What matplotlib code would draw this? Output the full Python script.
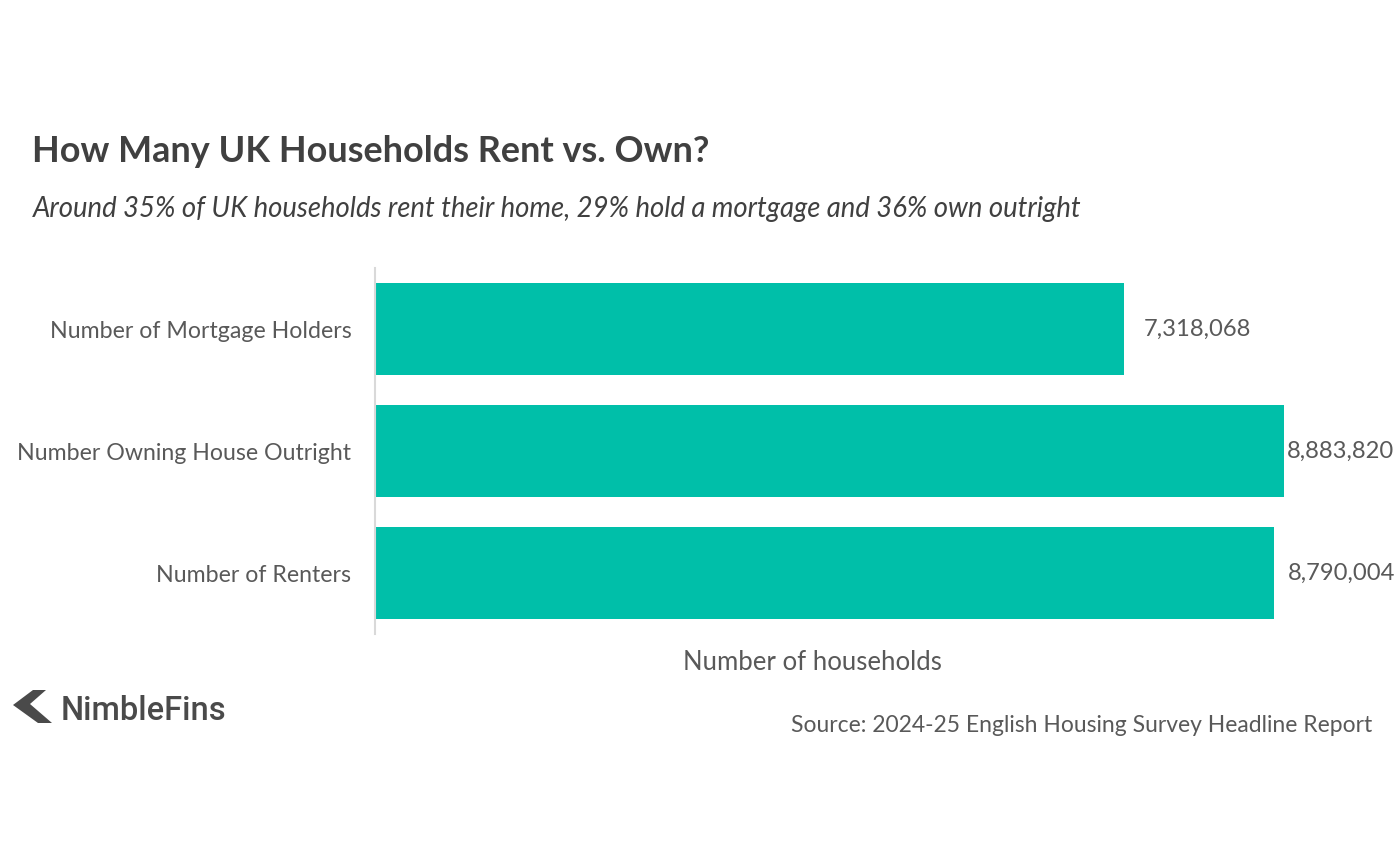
#!/usr/bin/env python3
"""
UK households: renting vs. owning (English Housing Survey 2024-25)
"""
import matplotlib
matplotlib.use("Agg")
import matplotlib.pyplot as plt
from matplotlib.patches import Polygon
from matplotlib.ticker import NullLocator

# data, bottom to top as drawn
categories = ["Number of Renters", "Number Owning House Outright", "Number of Mortgage Holders"]
households = [8790004, 8883820, 7318068]
label_offsets = [13, 3, 20]  # px gap between bar end and value label

TEAL = "#00BFA9"
GREY = "#595959"
DARK = "#404040"

plt.rcParams["font.family"] = ["Lato", "DejaVu Sans"]

W, H = 1400, 852
fig = plt.figure(figsize=(W / 100, H / 100), dpi=100)

ax = fig.add_axes([375 / W, 1 - 634 / H, (1390 - 375) / W, (634 - 268) / H])
ypos = list(range(len(categories)))
ax.barh(ypos, households, height=0.76, color=TEAL)
ax.set_xlim(0, 9.92e6)
ax.set_ylim(-0.5, len(categories) - 0.5)

ax.set_yticks(ypos)
ax.set_yticklabels(categories, fontsize=16.7, color=GREY)
ax.tick_params(axis="y", length=0, pad=17)
ax.xaxis.set_major_locator(NullLocator())

for side in ["top", "right", "bottom"]:
    ax.spines[side].set_visible(False)
ax.spines["left"].set_color("#d9d9d9")
ax.spines["left"].set_linewidth(1.5)

for y, v, off in zip(ypos, households, label_offsets):
    ax.annotate(f"{v:,}", xy=(v, y), xytext=(off * 0.72, 0), textcoords="offset points",
                ha="left", va="center", fontsize=17.1, color=GREY)

# titles
fig.text(32 / W, 1 - 152 / H, "How Many UK Households Rent vs. Own?",
         fontsize=25.9, fontweight="bold", color=DARK, ha="left", va="center")
fig.text(33 / W, 1 - 209 / H,
         "Around 35% of UK households rent their home, 29% hold a mortgage and 36% own outright",
         fontsize=19.8, style="italic", color=DARK, ha="left", va="center")

fig.text(812 / W, 1 - 662 / H, "Number of households",
         fontsize=18.5, color=GREY, ha="center", va="center")
fig.text(1372 / W, 1 - 725 / H, "Source: 2024-25 English Housing Survey Headline Report",
         fontsize=16.45, color=GREY, ha="right", va="center")

# NimbleFins logo
chevron = [(13, 705), (33, 690), (46, 690), (30, 704), (52, 723), (38, 723)]
fig.patches.append(Polygon([(x / W, 1 - y / H) for x, y in chevron], closed=True,
                           transform=fig.transFigure, facecolor="#4a4a4a", edgecolor="none"))
fig.text(61 / W, 1 - 711 / H, "NimbleFins", fontsize=23.5, fontweight="medium",
         family=["Roboto", "DejaVu Sans"], color="#4a4a4a", ha="left", va="center")

fig.savefig("out.png", dpi=100, facecolor="white")
